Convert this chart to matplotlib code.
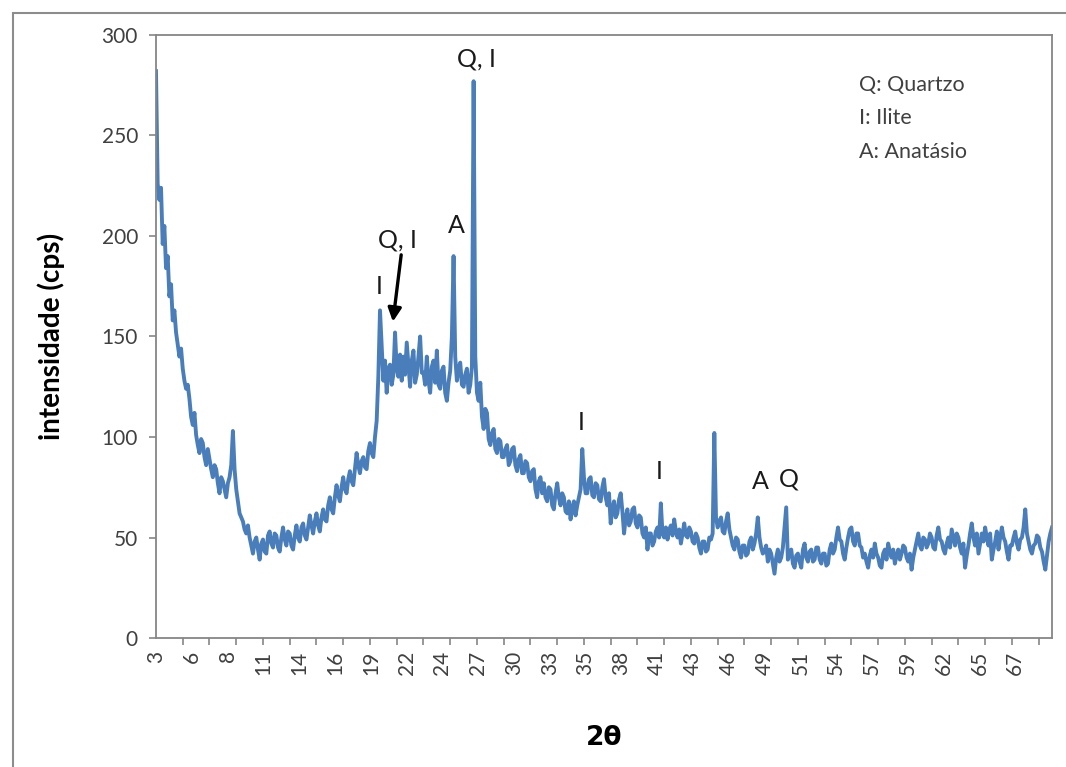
import numpy as np
import matplotlib
matplotlib.use("Agg")
import matplotlib.pyplot as plt
from matplotlib.patches import Rectangle

plt.rcParams['font.family'] = ['Lato', 'DejaVu Sans']

# scan: 3.000 .. 70.000 deg 2theta, step 0.125
scan_start = 3.0
scan_step = 0.125
intensity = [
    282, 226, 218, 224, 196, 205, 184, 190,   # 3
    170, 176, 158, 163, 152, 146, 140, 144,   # 4
    134, 128, 124, 126, 119, 110, 106, 112,   # 5
    101, 96, 92, 99, 97, 90, 86, 94,          # 6
    89, 84, 80, 86, 84, 77, 72, 80,           # 7
    78, 74, 70, 77, 80, 86, 103, 84,          # 8
    74, 68, 62, 60, 58, 54, 52, 56,           # 9
    50, 46, 42, 48, 50, 44, 39, 47,           # 10
    49, 43, 42, 51, 53, 47, 45, 52,           # 11
    51, 45, 43, 50, 55, 49, 46, 53,           # 12
    52, 46, 44, 51, 56, 50, 48, 55,           # 13
    57, 51, 49, 55, 61, 56, 52, 58,           # 14
    62, 56, 53, 60, 64, 59, 58, 66,           # 15
    70, 64, 62, 70, 76, 71, 68, 75,           # 16
    80, 74, 72, 79, 83, 78, 76, 84,           # 17
    92, 86, 82, 88, 90, 85, 84, 93,           # 18
    97, 92, 90, 100, 108, 130, 163, 145,      # 19
    128, 138, 122, 134, 136, 126, 131, 152,   # 20
    134, 130, 141, 128, 140, 131, 147, 136,   # 21
    125, 138, 143, 127, 131, 140, 150, 132,   # 22
    132, 126, 140, 128, 122, 135, 138, 127,   # 23
    143, 126, 124, 133, 135, 122, 118, 127,   # 24
    133, 150, 190, 140, 128, 134, 137, 126,   # 25
    125, 131, 134, 122, 126, 135, 277, 140,   # 26
    122, 118, 127, 110, 104, 114, 112, 99,    # 27
    96, 102, 104, 94, 92, 99, 98, 90,         # 28
    90, 94, 96, 86, 88, 94, 95, 86,           # 29
    83, 89, 91, 82, 82, 88, 87, 80,           # 30
    78, 83, 84, 74, 70, 78, 80, 72,           # 31
    77, 70, 68, 75, 74, 66, 64, 72,           # 32
    77, 70, 66, 72, 70, 63, 62, 68,           # 33
    59, 65, 68, 61, 66, 70, 74, 94,           # 34
    80, 72, 72, 79, 80, 71, 70, 77,           # 35
    76, 69, 68, 75, 79, 70, 66, 72,           # 36
    57, 64, 68, 60, 62, 69, 72, 63,           # 37
    52, 60, 64, 56, 58, 64, 65, 57,           # 38
    55, 61, 60, 52, 50, 55, 44, 52,           # 39
    52, 46, 48, 53, 55, 50, 67, 52,           # 40
    50, 55, 49, 54, 56, 51, 59, 53,           # 41
    50, 54, 47, 52, 57, 51, 50, 55,           # 42
    53, 48, 47, 52, 50, 45, 42, 48,           # 43
    48, 43, 44, 50, 49, 52, 102, 60,          # 44
    55, 58, 60, 53, 52, 58, 62, 54,           # 45
    50, 46, 44, 50, 49, 43, 40, 46,           # 46
    46, 41, 42, 48, 50, 44, 47, 52,           # 47
    60, 50, 45, 42, 43, 46, 38, 44,           # 48
    42, 37, 32, 40, 44, 38, 40, 45,           # 49
    55, 65, 39, 42, 44, 37, 35, 41,           # 50
    42, 38, 35, 44, 47, 40, 38, 43,           # 51
    44, 38, 39, 45, 45, 39, 37, 42,           # 52
    42, 36, 37, 44, 47, 42, 44, 50,           # 53
    55, 49, 48, 42, 39, 45, 50, 54,           # 54
    55, 48, 46, 52, 52, 46, 45, 40,           # 55
    42, 38, 35, 41, 44, 40, 47, 42,           # 56
    40, 36, 35, 42, 44, 39, 47, 43,           # 57
    40, 44, 37, 41, 44, 39, 42, 46,           # 58
    45, 40, 38, 42, 34, 40, 44, 48,           # 59
    52, 46, 44, 50, 49, 45, 47, 52,           # 60
    50, 45, 44, 51, 55, 49, 48, 44,           # 61
    42, 47, 50, 45, 54, 50, 46, 52,           # 62
    50, 45, 42, 47, 35, 41, 46, 52,           # 63
    57, 50, 46, 52, 42, 47, 52, 48,           # 64
    55, 50, 46, 52, 39, 44, 48, 53,           # 65
    44, 50, 55, 50, 48, 43, 39, 46,           # 66
    46, 50, 53, 47, 44, 49, 50, 55,           # 67
    64, 52, 48, 44, 42, 46, 47, 51,           # 68
    50, 45, 43, 38, 34, 41, 48, 52,           # 69
    55,                                       # 70
]
two_theta = scan_start + scan_step * np.arange(len(intensity))

x_labels = ['3', '6', '8', '11', '14', '16', '19', '22', '24', '27', '30', '33', '35',
            '38', '41', '43', '46', '49', '51', '54', '57', '59', '62', '65', '67']
label_step = 2.677

# peak annotations: (text, 2theta, intensity)
peak_labels = [
    ('Q, I', 26.96, 288),
    ('A', 25.46, 205),
    ('Q, I', 21.06, 198),
    ('I', 19.72, 175),
    ('I', 34.79, 107),
    ('I', 40.61, 83),
    ('A', 48.22, 78),
    ('Q', 50.31, 79),
]
legend_lines = ['Q: Quartzo', 'I: Ilite', 'A: Anatásio']

W, H = 1066, 767
fig = plt.figure(figsize=(W / 100, H / 100), dpi=100)
fig.patches.append(Rectangle((13 / W, -0.1), 1.2, 1.1 - 13 / H, transform=fig.transFigure,
                             fill=False, edgecolor='#8c8c8c', lw=1.5))
ax = fig.add_axes([156 / W, 1 - 638 / H, (1052 - 156) / W, (638 - 35) / H])

ax.plot(two_theta, intensity, color='#4a7ebb', lw=2.8, solid_joinstyle='round')

ax.set_xlim(3, 70)
ax.set_ylim(0, 300)
ax.set_yticks(range(0, 301, 50))
ax.tick_params(axis='y', direction='out', length=5, color='#868686', width=1.2,
               labelsize=15, labelcolor='#404040', pad=8)

ax.set_xticks([3 + i * label_step for i in range(len(x_labels))])
ax.set_xticklabels(x_labels, rotation=90)
ax.set_xticks(np.arange(3, 70, 2), minor=True)
ax.tick_params(axis='x', which='major', length=0, labelsize=15, labelcolor='#404040', pad=9)
ax.tick_params(axis='x', which='minor', direction='out', length=5, color='#868686', width=1.2)

for s in ax.spines.values():
    s.set_color('#868686')
    s.set_linewidth(1.3)

ax.set_ylabel('intensidade (cps)', fontsize=20, fontweight='bold', labelpad=26)
ax.set_xlabel('2θ', fontsize=19, fontweight='bold', labelpad=36, family=['DejaVu Sans'])

for txt, x, y in peak_labels:
    ax.text(x, y, txt, fontsize=18, ha='center', va='center', color='#1a1a1a')

ax.annotate('', xy=(20.69, 156), xytext=(21.36, 192),
            arrowprops=dict(arrowstyle='-|>', lw=2.4, color='black', mutation_scale=20))

for i, line in enumerate(legend_lines):
    ax.text(55.6, 275 - i * 16.5, line, fontsize=15.5, ha='left', va='center', color='#404040')

fig.savefig('out.png', dpi=100)
